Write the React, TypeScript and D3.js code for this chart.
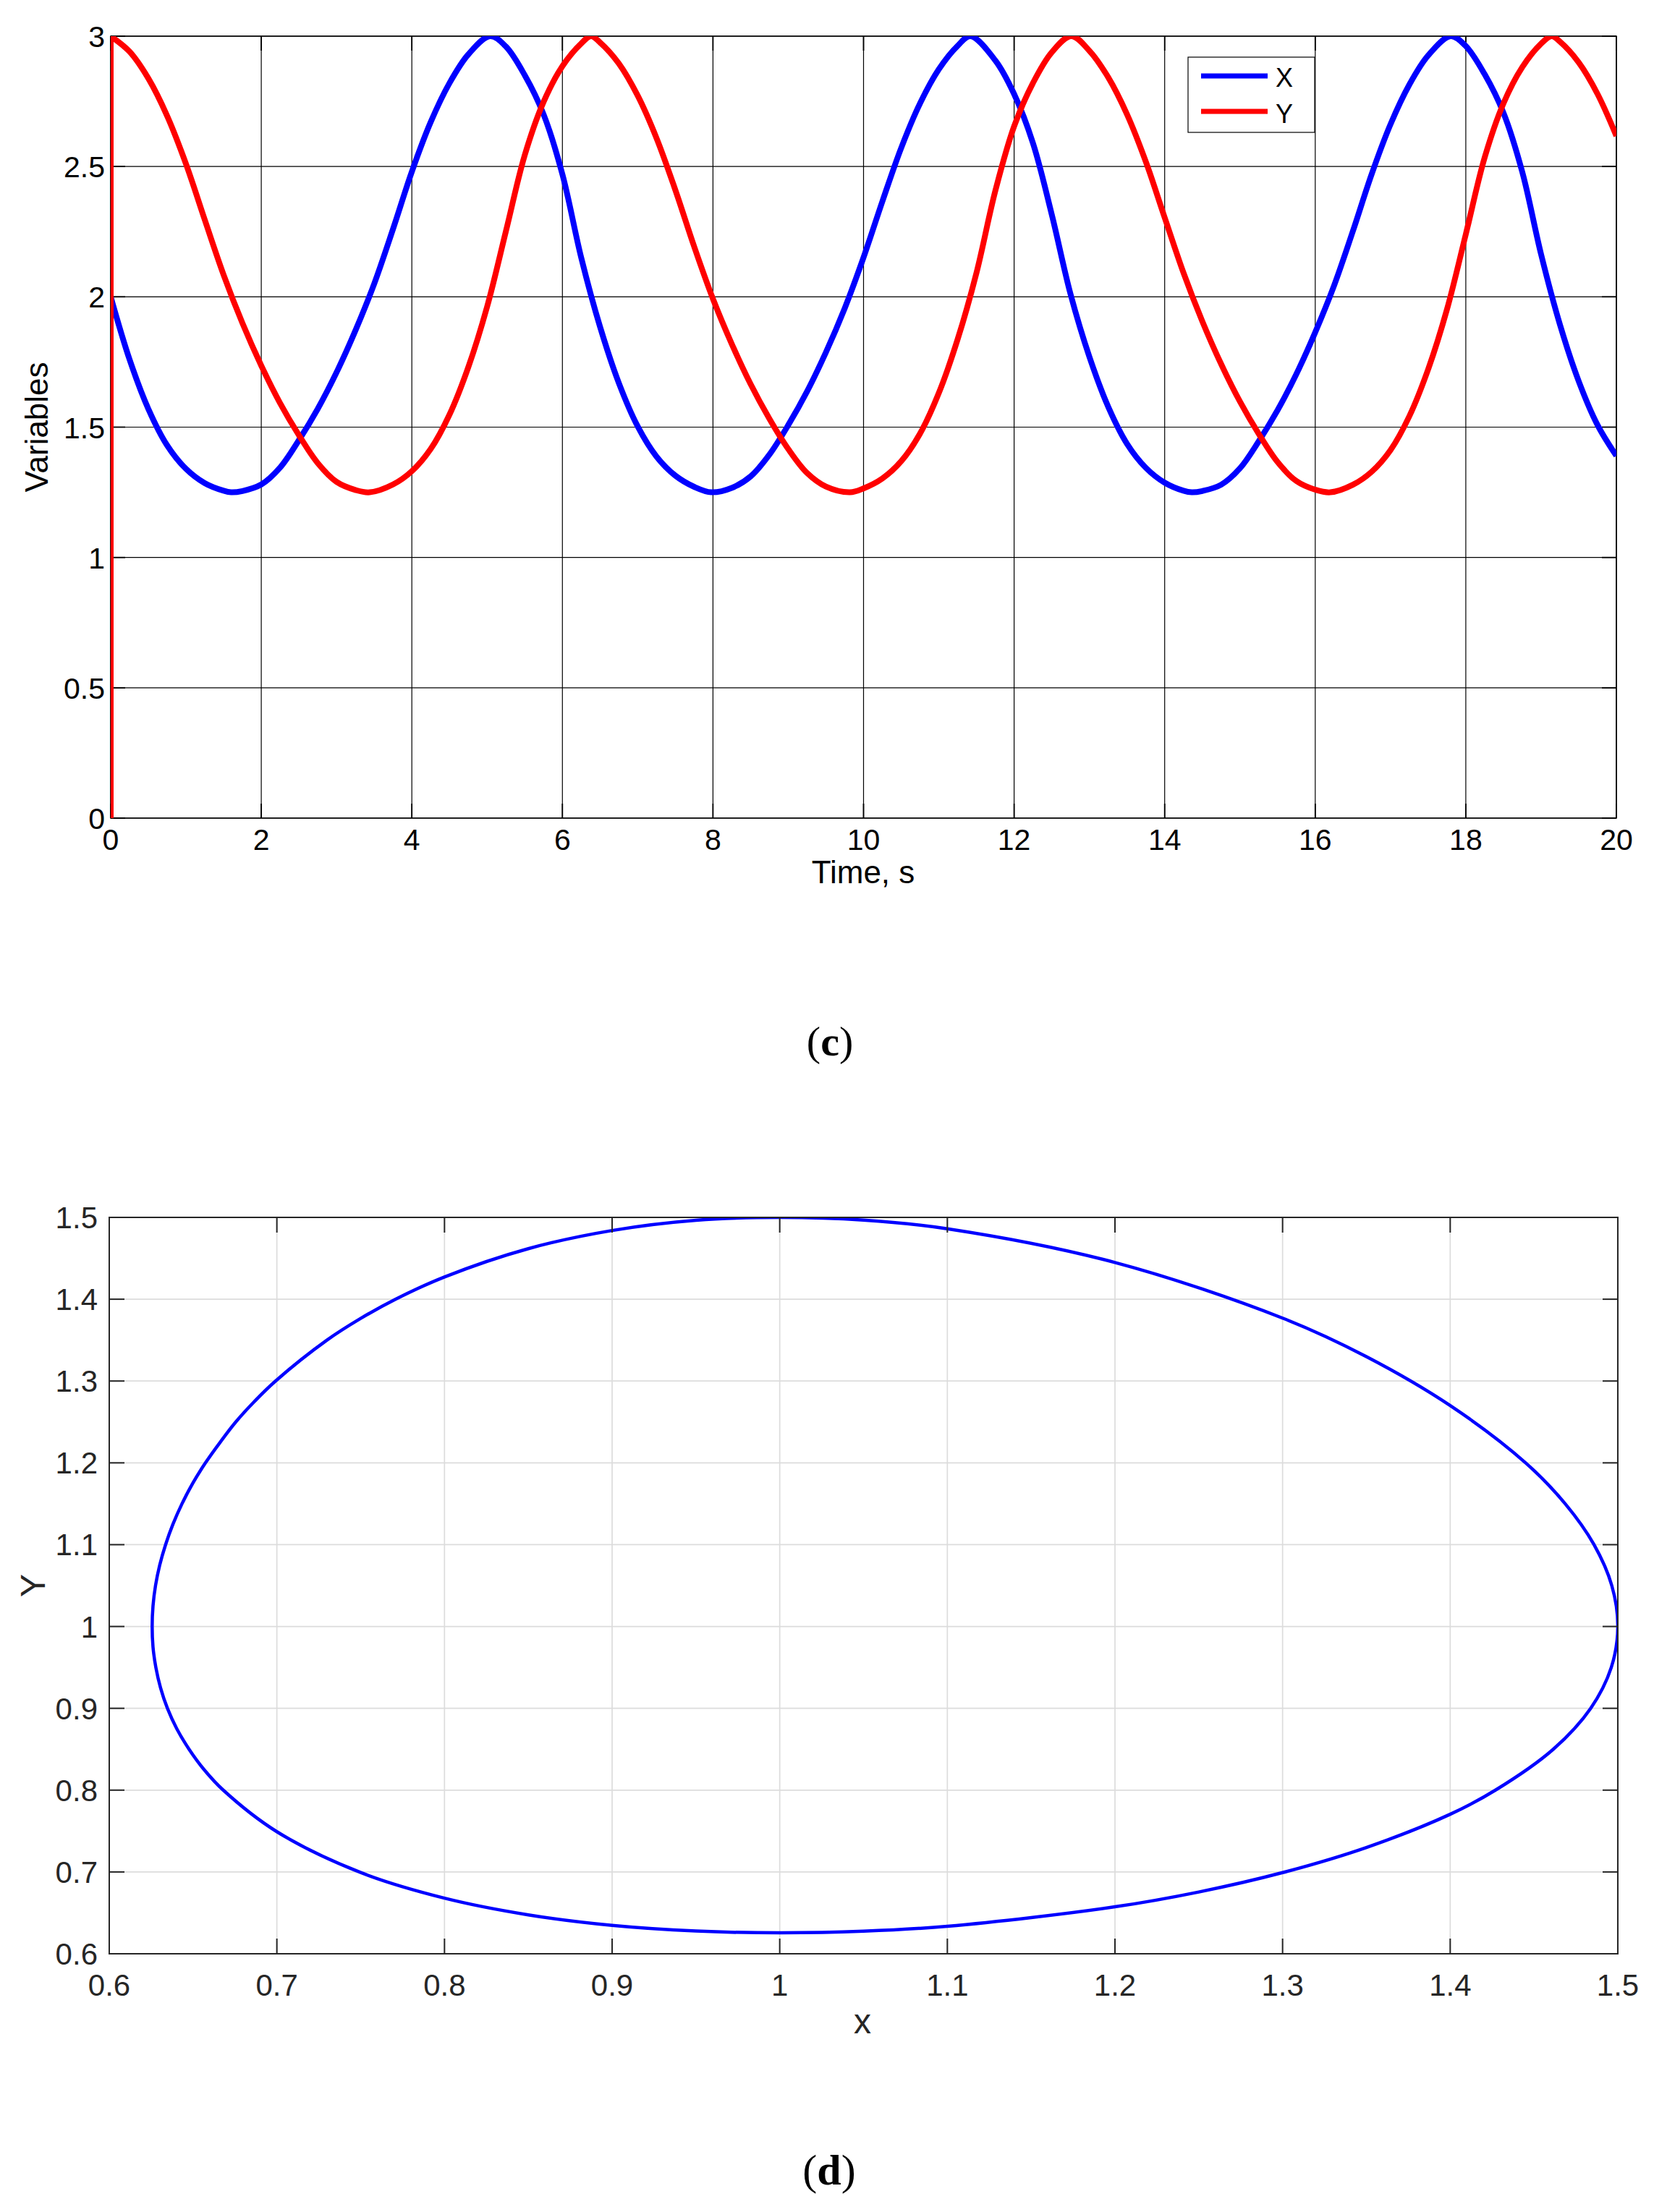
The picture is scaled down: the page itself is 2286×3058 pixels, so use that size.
import React from "react";
import * as d3 from "d3";

// ---------- data ----------
const timeTicks = [0, 2, 4, 6, 8, 10, 12, 14, 16, 18, 20];
const varTicks = [0, 0.5, 1, 1.5, 2, 2.5, 3];

const seriesX: [number, number][] = [
  [0, 2.0], [0.25, 1.76], [0.5, 1.57], [0.75, 1.43], [1, 1.34], [1.25, 1.285], [1.5, 1.256], [1.6, 1.25],
  [1.75, 1.255], [2, 1.28], [2.25, 1.345], [2.5, 1.45], [2.75, 1.57], [3, 1.71], [3.25, 1.87], [3.5, 2.05],
  [3.75, 2.26], [4, 2.48], [4.25, 2.67], [4.5, 2.82], [4.75, 2.93], [5.04, 3.0], [5.25, 2.96], [5.5, 2.85],
  [5.75, 2.7], [6, 2.47], [6.25, 2.15], [6.5, 1.885], [6.75, 1.669], [7, 1.503], [7.25, 1.387], [7.5, 1.314],
  [7.75, 1.271], [7.98, 1.25], [8.25, 1.267], [8.5, 1.311], [8.75, 1.395], [9, 1.508], [9.25, 1.637], [9.5, 1.787],
  [9.75, 1.956], [10, 2.151], [10.25, 2.366], [10.5, 2.571], [10.75, 2.742], [11, 2.873], [11.25, 2.963], [11.42, 3.0],
  [11.75, 2.907], [12, 2.778], [12.25, 2.59], [12.5, 2.316], [12.75, 2.01], [13, 1.77], [13.25, 1.578], [13.5, 1.436],
  [13.75, 1.344], [14, 1.287], [14.25, 1.256], [14.36, 1.25], [14.5, 1.255], [14.75, 1.279], [15, 1.342], [15.25, 1.446],
  [15.5, 1.565], [15.75, 1.704], [16, 1.864], [16.25, 2.043], [16.5, 2.252], [16.75, 2.471], [17, 2.662], [17.25, 2.814],
  [17.5, 2.926], [17.8, 3.0], [18, 2.962], [18.25, 2.854], [18.5, 2.706], [18.75, 2.479], [19, 2.163], [19.25, 1.894],
  [19.5, 1.676], [19.75, 1.508], [20, 1.39],
];

const seriesYStart: [number, number][] = [[0, 0], [0, 3.0]];

const seriesY: [number, number][] = [
  [0, 3.0], [0.25, 2.941], [0.5, 2.838], [0.75, 2.694], [1, 2.51], [1.25, 2.295], [1.5, 2.084], [1.75, 1.899],
  [2, 1.736], [2.25, 1.592], [2.5, 1.469], [2.75, 1.362], [3, 1.29], [3.25, 1.259], [3.44, 1.25], [3.75, 1.28],
  [4, 1.331], [4.25, 1.416], [4.5, 1.548], [4.75, 1.73], [5, 1.962], [5.25, 2.252], [5.5, 2.544], [5.75, 2.748],
  [6, 2.885], [6.25, 2.972], [6.38, 3.0], [6.5, 2.976], [6.75, 2.895], [7, 2.772], [7.25, 2.609], [7.5, 2.41],
  [7.75, 2.193], [8, 1.992], [8.25, 1.819], [8.5, 1.665], [8.75, 1.532], [9, 1.416], [9.25, 1.324], [9.5, 1.272],
  [9.82, 1.25], [10, 1.265], [10.25, 1.303], [10.5, 1.369], [10.75, 1.475], [11, 1.631], [11.25, 1.837], [11.5, 2.092],
  [11.75, 2.406], [12, 2.654], [12.25, 2.82], [12.5, 2.938], [12.76, 3.0], [13, 2.944], [13.25, 2.842], [13.5, 2.7],
  [13.75, 2.518], [14, 2.304], [14.25, 2.092], [14.5, 1.906], [14.75, 1.742], [15, 1.598], [15.25, 1.474], [15.5, 1.366],
  [15.75, 1.293], [16, 1.26], [16.2, 1.25], [16.5, 1.279], [16.75, 1.329], [17, 1.412], [17.25, 1.542], [17.5, 1.722],
  [17.75, 1.952], [18, 2.24], [18.25, 2.534], [18.5, 2.742], [18.75, 2.881], [19, 2.971], [19.14, 3.0], [19.25, 2.979],
  [19.5, 2.899], [19.75, 2.778], [20, 2.617],
];

const phaseTicks = [0.6, 0.7, 0.8, 0.9, 1.0, 1.1, 1.2, 1.3, 1.4, 1.5];

const phaseOrbit: [number, number][] = [
  [1.0, 1.5], [1.05, 1.4967], [1.1, 1.4861], [1.2, 1.4449], [1.3, 1.3769], [1.35, 1.3298], [1.4, 1.27], [1.445, 1.2],
  [1.4686, 1.15], [1.4858, 1.1], [1.4964, 1.05], [1.5, 1.0], [1.4961, 0.95], [1.4838, 0.9], [1.4615, 0.85], [1.427, 0.8],
  [1.4, 0.7705], [1.35, 0.7299], [1.3, 0.6992], [1.25, 0.6755], [1.2, 0.6574], [1.1, 0.6336], [1.05, 0.6276], [1.0, 0.6256],
  [0.95, 0.6278], [0.9, 0.6347], [0.85, 0.6476], [0.8, 0.668], [0.75, 0.6993], [0.7, 0.7492], [0.668, 0.8], [0.6566, 0.825],
  [0.6476, 0.85], [0.6403, 0.875], [0.6347, 0.9], [0.6306, 0.925], [0.6278, 0.95], [0.6261, 0.975], [0.6256, 1.0], [0.6261, 1.025],
  [0.6276, 1.05], [0.6301, 1.075], [0.6336, 1.1], [0.638, 1.125], [0.6434, 1.15], [0.6498, 1.175], [0.6574, 1.2], [0.6661, 1.225],
  [0.6755, 1.25], [0.6866, 1.275], [0.6992, 1.3], [0.7299, 1.35], [0.75, 1.3765], [0.7705, 1.3997], [0.8, 1.4272], [0.85, 1.4618],
  [0.9, 1.484], [0.95, 1.4965],
];

const SANS = "'Liberation Sans', Arial, Helvetica, sans-serif";
const SERIF = "'Liberation Serif', 'Times New Roman', serif";

export default function App() {
  // top chart
  const T = { l: 153, t: 50, r: 2234, b: 1131 };
  const xT = d3.scaleLinear().domain([0, 20]).range([T.l, T.r]);
  const yT = d3.scaleLinear().domain([0, 3]).range([T.b, T.t]);
  const lineT = d3
    .line<[number, number]>()
    .x((d) => xT(d[0]))
    .y((d) => yT(d[1]))
    .curve(d3.curveCatmullRom.alpha(0.5));
  const lineLin = d3
    .line<[number, number]>()
    .x((d) => xT(d[0]))
    .y((d) => yT(d[1]));

  // bottom chart
  const B = { l: 151, t: 1683, r: 2236, b: 2701 };
  const xB = d3.scaleLinear().domain([0.6, 1.5]).range([B.l, B.r]);
  const yB = d3.scaleLinear().domain([0.6, 1.5]).range([B.b, B.t]);
  const orbit = d3
    .line<[number, number]>()
    .x((d) => xB(d[0]))
    .y((d) => yB(d[1]))
    .curve(d3.curveCatmullRomClosed.alpha(0.5));

  const tickLen = 20;
  const ax = "#262626";
  const fmtB = d3.format("~g");

  return (
    <svg
      width={2286}
      height={3058}
      viewBox="0 0 2286 3058"
      style={{ position: "absolute", left: 0, top: 0, background: "#fff" }}
    >
      <rect x={0} y={0} width={2286} height={3058} fill="#fff" />
      <defs>
        <clipPath id="clipT">
          <rect x={T.l} y={T.t} width={T.r - T.l} height={T.b - T.t} />
        </clipPath>
        <clipPath id="clipB">
          <rect x={B.l} y={B.t} width={B.r - B.l} height={B.b - B.t} />
        </clipPath>
      </defs>

      {/* ================= TOP CHART ================= */}
      <g>
        {timeTicks.map((v) => (
          <line key={"gx" + v} x1={xT(v)} x2={xT(v)} y1={T.t} y2={T.b} stroke="#000" strokeWidth={1.2} />
        ))}
        {varTicks.map((v) => (
          <line key={"gy" + v} x1={T.l} x2={T.r} y1={yT(v)} y2={yT(v)} stroke="#000" strokeWidth={1.2} />
        ))}
        {timeTicks.map((v) => (
          <g key={"tx" + v}>
            <line x1={xT(v)} x2={xT(v)} y1={T.b} y2={T.b - tickLen} stroke="#000" strokeWidth={1.8} />
            <line x1={xT(v)} x2={xT(v)} y1={T.t} y2={T.t + tickLen} stroke="#000" strokeWidth={1.8} />
          </g>
        ))}
        {varTicks.map((v) => (
          <g key={"ty" + v}>
            <line x1={T.l} x2={T.l + tickLen} y1={yT(v)} y2={yT(v)} stroke="#000" strokeWidth={1.8} />
            <line x1={T.r} x2={T.r - tickLen} y1={yT(v)} y2={yT(v)} stroke="#000" strokeWidth={1.8} />
          </g>
        ))}
        <rect x={T.l} y={T.t} width={T.r - T.l} height={T.b - T.t} fill="none" stroke="#000" strokeWidth={1.5} />

        <g clipPath="url(#clipT)">
          <path d={lineT(seriesX) || ""} fill="none" stroke="#0000ff" strokeWidth={8} strokeLinejoin="round" />
          <path d={lineLin(seriesYStart) || ""} fill="none" stroke="#ff0000" strokeWidth={8} />
          <path d={lineT(seriesY) || ""} fill="none" stroke="#ff0000" strokeWidth={8} strokeLinejoin="round" />
        </g>

        {timeTicks.map((v) => (
          <text key={"lx" + v} x={xT(v)} y={1175} fontFamily={SANS} fontSize={41} textAnchor="middle" fill="#000">
            {String(v)}
          </text>
        ))}
        {varTicks.map((v) => (
          <text key={"ly" + v} x={145} y={yT(v) + 15} fontFamily={SANS} fontSize={41} textAnchor="end" fill="#000">
            {String(v)}
          </text>
        ))}
        <text x={1193} y={1221} fontFamily={SANS} fontSize={44} textAnchor="middle" fill="#000">
          Time, s
        </text>
        <text
          transform={`translate(66, ${(T.t + T.b) / 2}) rotate(-90)`}
          fontFamily={SANS}
          fontSize={44}
          textAnchor="middle"
          fill="#000"
        >
          Variables
        </text>

        {/* legend */}
        <rect x={1642} y={79} width={175} height={104} fill="#fff" stroke="#000" strokeWidth={1.2} />
        <line x1={1660} x2={1752} y1={105} y2={105} stroke="#0000ff" strokeWidth={7} />
        <line x1={1660} x2={1752} y1={154} y2={154} stroke="#ff0000" strokeWidth={7} />
        <text x={1763} y={120} fontFamily={SANS} fontSize={36} fill="#000">
          X
        </text>
        <text x={1763} y={170} fontFamily={SANS} fontSize={36} fill="#000">
          Y
        </text>

        <text x={1147} y={1459} fontFamily={SERIF} fontSize={58} textAnchor="middle" fill="#000">
          (<tspan fontWeight="bold">c</tspan>)
        </text>
      </g>

      {/* ================= BOTTOM CHART ================= */}
      <g>
        {phaseTicks.map((v) => (
          <line key={"bgx" + v} x1={xB(v)} x2={xB(v)} y1={B.t} y2={B.b} stroke="#dcdcdc" strokeWidth={1.7} />
        ))}
        {phaseTicks.map((v) => (
          <line key={"bgy" + v} x1={B.l} x2={B.r} y1={yB(v)} y2={yB(v)} stroke="#dcdcdc" strokeWidth={1.7} />
        ))}

        <g clipPath="url(#clipB)">
          <path d={orbit(phaseOrbit) || ""} fill="none" stroke="#0000ff" strokeWidth={4.5} strokeLinejoin="round" />
        </g>

        {phaseTicks.map((v) => (
          <g key={"btx" + v}>
            <line x1={xB(v)} x2={xB(v)} y1={B.b} y2={B.b - 21} stroke={ax} strokeWidth={2} />
            <line x1={xB(v)} x2={xB(v)} y1={B.t} y2={B.t + 21} stroke={ax} strokeWidth={2} />
            <line x1={B.l} x2={B.l + 21} y1={yB(v)} y2={yB(v)} stroke={ax} strokeWidth={2} />
            <line x1={B.r} x2={B.r - 21} y1={yB(v)} y2={yB(v)} stroke={ax} strokeWidth={2} />
          </g>
        ))}
        <rect x={B.l} y={B.t} width={B.r - B.l} height={B.b - B.t} fill="none" stroke={ax} strokeWidth={2} />

        {phaseTicks.map((v) => (
          <text key={"blx" + v} x={xB(v)} y={2759} fontFamily={SANS} fontSize={42} textAnchor="middle" fill={ax}>
            {fmtB(v)}
          </text>
        ))}
        {phaseTicks.map((v) => (
          <text key={"bly" + v} x={135} y={yB(v) + 15} fontFamily={SANS} fontSize={42} textAnchor="end" fill={ax}>
            {fmtB(v)}
          </text>
        ))}
        <text x={1192} y={2811} fontFamily={SANS} fontSize={48} textAnchor="middle" fill={ax}>
          x
        </text>
        <text
          transform={`translate(62, ${(B.t + B.b) / 2}) rotate(-90)`}
          fontFamily={SANS}
          fontSize={48}
          textAnchor="middle"
          fill={ax}
        >
          Y
        </text>

        <text x={1146} y={3020} fontFamily={SERIF} fontSize={60} textAnchor="middle" fill="#000">
          (<tspan fontWeight="bold">d</tspan>)
        </text>
      </g>
    </svg>
  );
}
